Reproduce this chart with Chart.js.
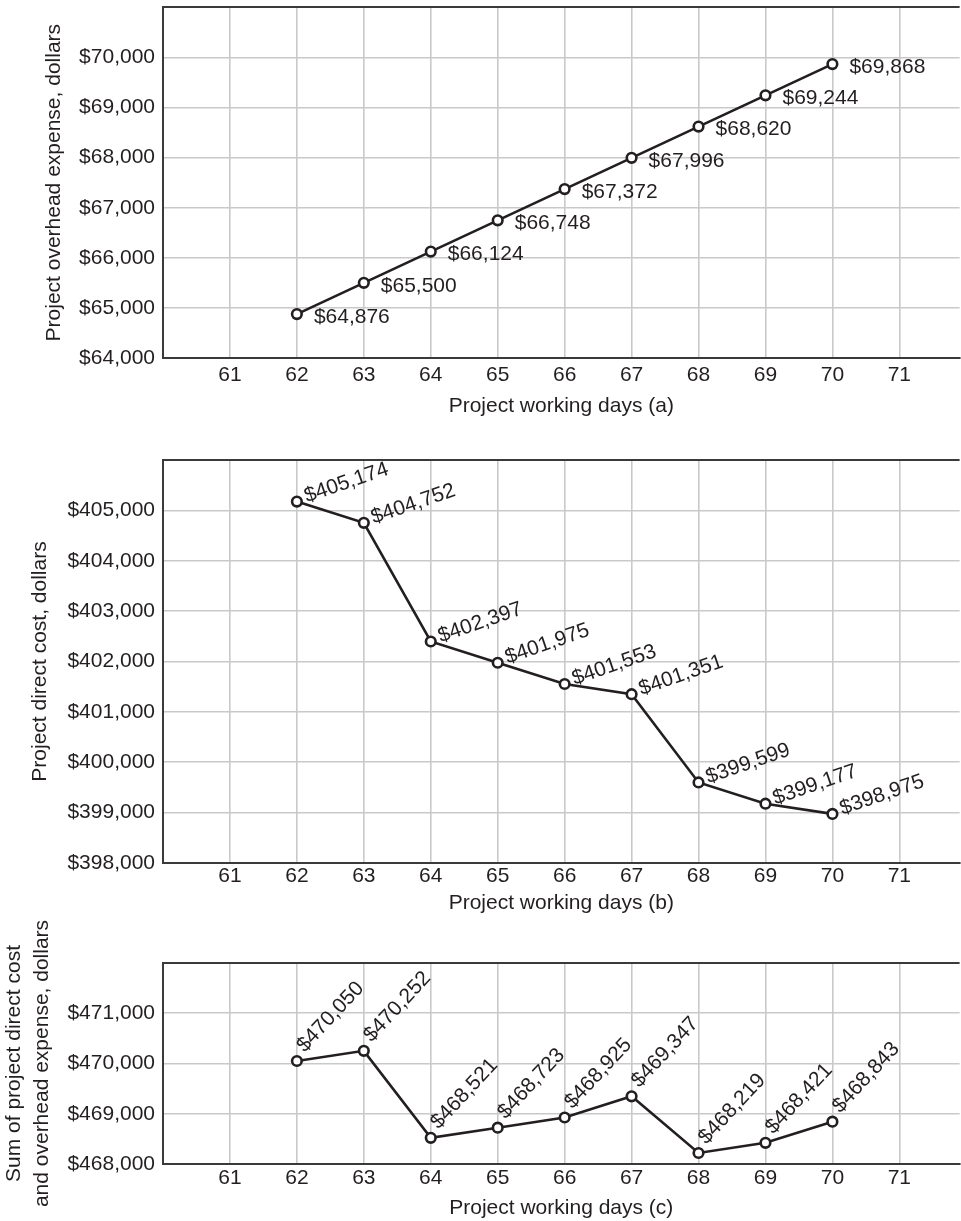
<!DOCTYPE html>
<html>
<head>
<meta charset="utf-8">
<script src="https://cdn.jsdelivr.net/npm/chart.js@4.4.1/dist/chart.umd.min.js"></script>
<style>
  html, body { margin: 0; background: #fff; overflow: hidden; }
  .box { position: absolute; left: 0; width: 967px; }
</style>
</head>
<body>
<div class="box" style="top:0;height:420px"><canvas id="overheadChart"></canvas></div>
<div class="box" style="top:420px;height:500px"><canvas id="directChart"></canvas></div>
<div class="box" style="top:920px;height:301px"><canvas id="totalChart"></canvas></div>

<script>
// Working days and values
let days = [62, 63, 64, 65, 66, 67, 68, 69, 70];
let overhead = [64876, 65500, 66124, 66748, 67372, 67996, 68620, 69244, 69868];
let directCost = [405174, 404752, 402397, 401975, 401553, 401351, 399599, 399177, 398975];
let totalCost = [470050, 470252, 468521, 468723, 468925, 469347, 468219, 468421, 468843];

// axis ranges (min, max) for each panel
let xRange = [60, 71.9];
let overheadRange = [64000, 71000];
let directRange = [398000, 406000];
let totalRange = [468000, 472000];

const INK = '#231f20';
const AXIS = '#3a3a3a';
const GRID = '#c9c9c9';
const FONT_FAMILY = "'Liberation Sans', Arial, Helvetica, sans-serif";

Chart.defaults.font.family = FONT_FAMILY;
Chart.defaults.font.size = 21;
Chart.defaults.color = INK;

function money(v) {
    return '$' + v.toLocaleString('en-US');
}

// draw the dollar value beside every point
const pointLabels = {
    id: 'pointLabels',
    afterDatasetsDraw(chart, args, opts) {
        const ctx = chart.ctx;
        const meta = chart.getDatasetMeta(0);
        const data = chart.data.datasets[0].data;
        ctx.save();
        ctx.font = '21px ' + FONT_FAMILY;
        ctx.fillStyle = INK;
        ctx.textAlign = 'left';
        ctx.textBaseline = opts.baseline;
        meta.data.forEach((pt, i) => {
            ctx.save();
            ctx.translate(pt.x + opts.dx, pt.y + opts.dy);
            ctx.rotate(opts.angle * Math.PI / 180);
            ctx.fillText(money(data[i].y), 0, 0);
            ctx.restore();
        });
        ctx.restore();
    }
};

function makeChart(id, values, yRange, yTitle, xTitle, look) {
    const ctx = document.getElementById(id).getContext('2d');
    return new Chart(ctx, {
        type: 'line',
        data: {
            datasets: [{
                data: days.map((d, i) => ({ x: d, y: values[i] })),
                borderColor: INK,
                borderWidth: 2.6,
                pointRadius: 4.8,
                pointBorderWidth: 2.6,
                pointBackgroundColor: '#fff',
                pointBorderColor: INK,
                tension: 0,
                clip: false
            }]
        },
        options: {
            responsive: true,
            maintainAspectRatio: false,
            animation: false,
            layout: { padding: { top: look.top, left: 0, right: 0, bottom: 0 } },
            plugins: {
                legend: { display: false },
                tooltip: { enabled: false },
                pointLabels: look.labels
            },
            scales: {
                x: {
                    type: 'linear',
                    bounds: 'data',
                    min: xRange[0],
                    max: xRange[1],
                    ticks: {
                        stepSize: 1,
                        includeBounds: false,
                        padding: look.tickPad,
                        maxRotation: 0,
                        callback: v => (v === xRange[0] ? '' : String(v))
                    },
                    grid: {
                        drawTicks: false,
                        lineWidth: 1.6,
                        color: c => (c.tick && c.tick.value === xRange[0] ? 'rgba(0,0,0,0)' : GRID)
                    },
                    border: { color: AXIS, width: 2 },
                    title: {
                        display: true,
                        text: xTitle,
                        padding: { top: 0, bottom: look.xTitlePad }
                    },
                    afterFit: s => {
                        s.height = look.xHeight;
                        s.paddingLeft = 0;
                        s.paddingRight = 0;
                    }
                },
                y: {
                    min: yRange[0],
                    max: yRange[1],
                    ticks: {
                        stepSize: 1000,
                        padding: 8,
                        callback: v => (v === yRange[1] ? '' : money(v))
                    },
                    grid: {
                        drawTicks: false,
                        lineWidth: c => (c.tick && c.tick.value === yRange[1] ? 2 : 1.6),
                        color: c => {
                            if (!c.tick) return GRID;
                            if (c.tick.value === yRange[1]) return AXIS;
                            if (c.tick.value === yRange[0]) return 'rgba(0,0,0,0)';
                            return GRID;
                        }
                    },
                    border: { color: AXIS, width: 2 },
                    title: {
                        display: true,
                        text: yTitle,
                        font: { lineHeight: 1.3 },
                        padding: { top: look.yTitlePad, bottom: 0 }
                    },
                    afterFit: s => {
                        s.width = 163;
                        s.paddingTop = 0;
                        s.paddingBottom = 0;
                    }
                }
            }
        },
        plugins: [pointLabels]
    });
}

makeChart('overheadChart', overhead, overheadRange,
    'Project overhead expense, dollars', 'Project working days (a)', {
        top: 7, xHeight: 62, tickPad: 5, xTitlePad: 1, yTitlePad: 41,
        labels: { dx: 17, dy: 3, angle: 0, baseline: 'middle' }
    });

makeChart('directChart', directCost, directRange,
    'Project direct cost, dollars', 'Project working days (b)', {
        top: 40, xHeight: 57, tickPad: 1, xTitlePad: 4, yTitlePad: 27,
        labels: { dx: 10, dy: 1, angle: -19, baseline: 'alphabetic' }
    });

makeChart('totalChart', totalCost, totalRange,
    ['Sum of project direct cost', 'and overhead expense, dollars'], 'Project working days (c)', {
        top: 43, xHeight: 57, tickPad: 2, xTitlePad: 0, yTitlePad: 1,
        labels: { dx: 8, dy: -8, angle: -47, baseline: 'alphabetic' }
    });
</script>
</body>
</html>
